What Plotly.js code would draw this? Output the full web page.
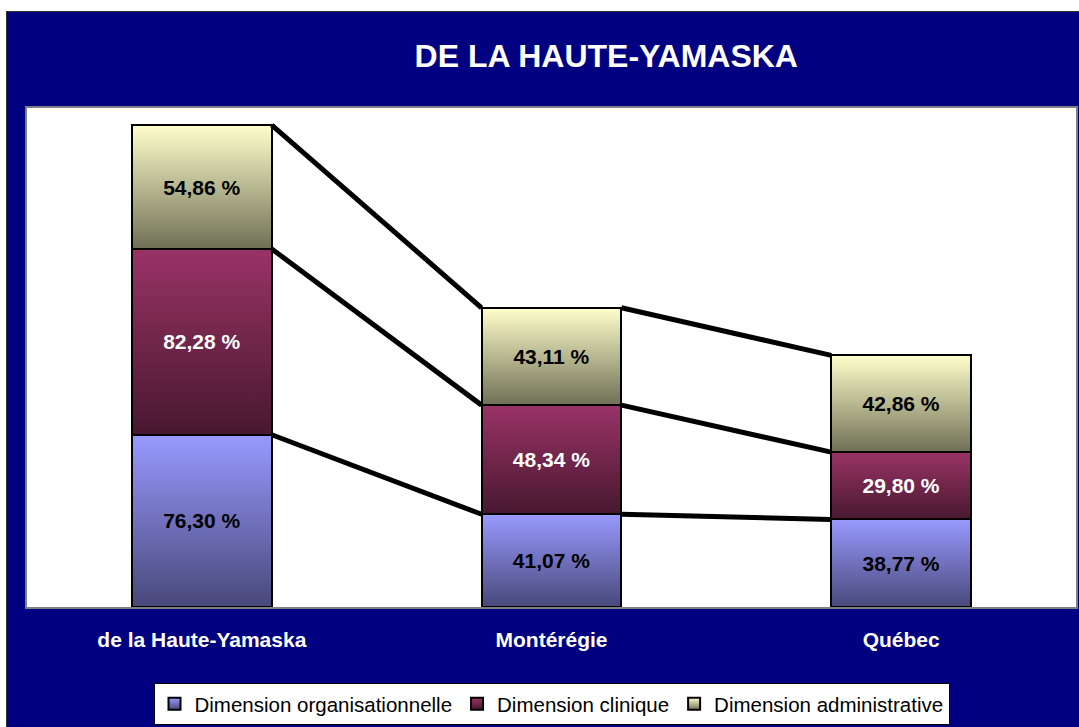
<!DOCTYPE html>
<html>
<head>
<meta charset="utf-8">
<script src="https://cdn.plot.ly/plotly-3.0.1.min.js"></script>
<style>
  html, body { margin: 0; padding: 0; background: #ffffff; width: 1079px; height: 727px; overflow: hidden; }
  #chart { position: absolute; left: 6px; top: 11px; width: 1072px; height: 715px;
           border-left: 1px solid #333333; border-top: 1px solid #333333; }
</style>
</head>
<body>
<div id="chart"></div>
<script>
// ---- data ----
const categories = ["de la Haute-Yamaska", "Montérégie", "Québec"];
const seriesNames = ["Dimension organisationnelle", "Dimension clinique", "Dimension administrative"];
const organisationnelle = [76.30, 41.07, 38.77];
const clinique = [82.28, 48.34, 29.80];
const administrative = [54.86, 43.11, 42.86];
const titleText = "DE LA HAUTE-YAMASKA";

// ---- styling ----
const seriesValues = [organisationnelle, clinique, administrative];
const baseColors = ["#8080d8", "#7a2a55", "#c8c8a0"];
const textColors = ["#000000", "#ffffff", "#000000"];
const gradients = [
  ["#9999ff", "#48487a"],
  ["#993366", "#48182f"],
  ["#ffffcc", "#6f6f56"]
];
const barWidth = 0.4;
const FONT = "Arial, 'Liberation Sans', sans-serif";

const xIdx = categories.map((c, i) => i);
const fmt = v => v.toFixed(2).replace(".", ",") + " %";

const traces = [];
seriesValues.forEach((vals, s) => {
  traces.push({
    type: "bar",
    name: seriesNames[s],
    x: xIdx,
    y: vals,
    width: barWidth,
    text: vals.map(fmt),
    textposition: "inside",
    insidetextanchor: "middle",
    textangle: 0,
    constraintext: "none",
    textfont: { family: FONT, size: 21, color: textColors[s], weight: "bold" },
    marker: { color: baseColors[s], line: { color: "#000000", width: 2 } },
    hoverinfo: "skip"
  });
});

// cumulative tops for series lines
const cum = [];
let running = categories.map(() => 0);
seriesValues.forEach(vals => {
  running = running.map((r, i) => r + vals[i]);
  cum.push(running.slice());
});
cum.forEach(tops => {
  const lx = [], ly = [];
  for (let i = 0; i < categories.length - 1; i++) {
    lx.push(i + barWidth / 2, i + 1 - barWidth / 2, null);
    ly.push(tops[i], tops[i + 1], null);
  }
  traces.push({
    type: "scatter", mode: "lines", x: lx, y: ly,
    line: { color: "#000000", width: 5 },
    showlegend: false, hoverinfo: "skip"
  });
});

const boundaries = categories.map((c, i) => i - 0.5).concat([categories.length - 0.5]);
const xRange = [-0.5, categories.length - 0.5];

const layout = {
  width: 1072, height: 715,
  margin: { l: 20, r: 3, t: 96, b: 119 },
  paper_bgcolor: "#000080",
  plot_bgcolor: "#ffffff",
  barmode: "stack",
  font: { family: FONT },
  title: {
    text: titleText,
    font: { family: FONT, size: 32, color: "#ffffff", weight: "bold" },
    x: 0.559, xref: "container", xanchor: "center",
    y: 0.9385, yref: "container", yanchor: "middle"
  },
  xaxis: {
    range: xRange,
    tickvals: xIdx, ticktext: categories,
    ticks: "", ticklabelstandoff: 13,
    tickfont: { family: FONT, size: 21, color: "#ffffff", weight: "bold" },
    showgrid: false, zeroline: false,
    showline: true, linecolor: "#808080", linewidth: 2, mirror: true,
    fixedrange: true
  },
  xaxis2: {
    overlaying: "x", anchor: "y", side: "bottom",
    range: xRange,
    tickvals: boundaries, ticks: "outside", ticklen: 5, tickwidth: 1, tickcolor: "#404040",
    showticklabels: false, showgrid: false, zeroline: false, showline: false
  },
  yaxis: {
    range: [0, 221],
    showticklabels: false, ticks: "", showgrid: false, zeroline: false,
    showline: true, linecolor: "#808080", linewidth: 2, mirror: true,
    fixedrange: true
  },
  showlegend: true,
  legend: {
    orientation: "h", traceorder: "normal",
    x: 0.5, xanchor: "center", y: -0.15, yanchor: "top",
    bgcolor: "#ffffff", bordercolor: "#000000", borderwidth: 1,
    font: { family: FONT, size: 20.5, color: "#000000" },
    itemwidth: 30
  }
};

Plotly.newPlot("chart", traces, layout, { displayModeBar: false, staticPlot: true }).then(gd => {
  const svgNS = "http://www.w3.org/2000/svg";
  const defs = gd.querySelector(".main-svg defs");
  gradients.forEach((g, s) => {
    const lg = document.createElementNS(svgNS, "linearGradient");
    lg.setAttribute("id", "barGrad" + s);
    lg.setAttribute("x1", "0"); lg.setAttribute("y1", "0");
    lg.setAttribute("x2", "0"); lg.setAttribute("y2", "1");
    [[0, g[0]], [1, g[1]]].forEach(([o, c]) => {
      const st = document.createElementNS(svgNS, "stop");
      st.setAttribute("offset", o);
      st.setAttribute("stop-color", c);
      lg.appendChild(st);
    });
    defs.appendChild(lg);
  });
  const barTraces = gd.querySelectorAll(".barlayer .trace.bars");
  barTraces.forEach((t, s) => {
    t.querySelectorAll(".point path").forEach(p => { p.style.fill = "url(#barGrad" + s + ")"; });
  });
  const legendTraces = gd.querySelectorAll(".legend .traces");
  legendTraces.forEach((t, s) => {
    t.querySelectorAll(".legendpoints path").forEach(p => { p.style.fill = "url(#barGrad" + s + ")"; });
  });
});
</script>
</body>
</html>
